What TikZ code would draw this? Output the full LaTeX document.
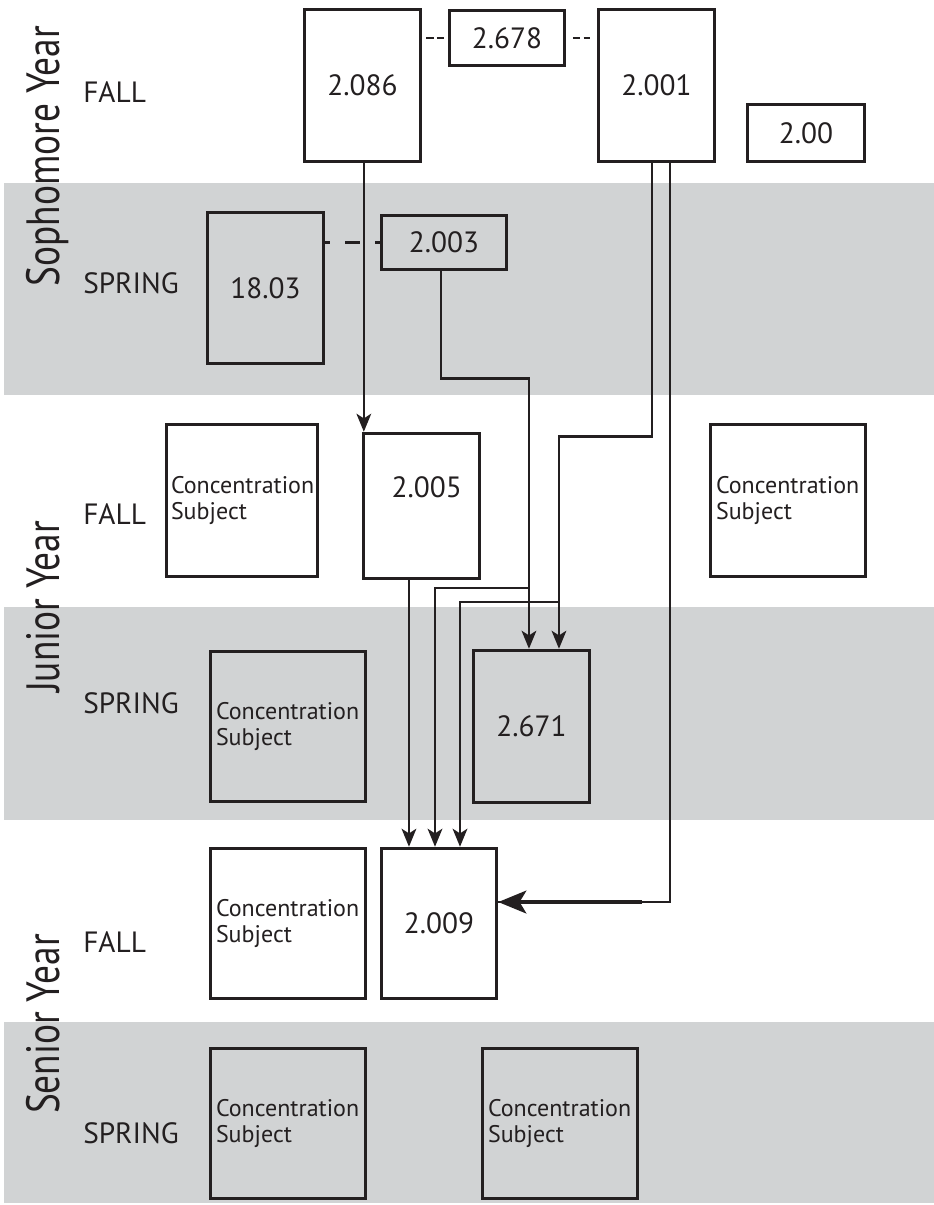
\documentclass[tikz,border=0pt]{standalone}
\usepackage{fontspec}
\setmainfont{PT Sans}
\newfontfamily\yearfont[FakeStretch=0.8]{PT Sans}
\usetikzlibrary{arrows.meta}
\definecolor{band}{HTML}{D1D3D4}
\definecolor{ink}{HTML}{231F20}

\begin{document}
\begin{tikzpicture}[x=0.75pt, y=-0.75pt,
    course/.style={draw=ink, line width=2.6pt, inner sep=0pt, text=ink, font=\fontsize{22}{24}\selectfont},
    conc/.style={draw=ink, line width=2.6pt, align=left, text=ink, font=\fontsize{18}{20}\selectfont},
    season/.style={anchor=west, inner sep=0pt, text=ink, font=\fontsize{22}{24}\selectfont},
    year/.style={rotate=90, anchor=base, inner sep=0pt, text=ink, font=\yearfont\fontsize{35}{36}\selectfont},
    flow/.style={draw=ink, line width=1.9pt, -{Stealth[length=13.5pt,width=11pt,inset=3.5pt]}},
    bigflow/.style={draw=ink, line width=3.2pt, -{Stealth[length=21pt,width=17pt,inset=5pt]}},
    link/.style={draw=ink, line width=1.9pt},
    prereq/.style={draw=ink, line width=1.8pt, dash pattern=on 5.5pt off 2.5pt}]

  \useasboundingbox (0,0) rectangle (934,1205);
  % grey spring bands
  \foreach \top/\bot in {183/395, 607/820, 1022/1203}
    \fill[band] (4,\top) rectangle (934,\bot);

  % year and term labels
  \node[year] (soph) at (59,156) {Sophomore Year};
  \node[year] (junior) at (59,607) {Junior Year};
  \node[year] (senior) at (59,1024) {Senior Year};
  \foreach \y/\term in {92/FALL, 283/SPRING, 514/FALL, 703/SPRING, 942/FALL, 1133/SPRING}
    \node[season] (term\y) at (83,\y) {\term};

  % sophomore year
  \node[course, minimum width=87pt, minimum height=114pt] (c2086) at (362.5,85.5) {2.086};
  \node[course, minimum width=86.25pt, minimum height=41.25pt] (c2678) at (507,38) {2.678};
  \node[course, minimum width=87pt, minimum height=114pt] (c2001) at (656.5,85.5) {2.001};
  \node[course, minimum width=87.75pt, minimum height=42.75pt] (c200) at (806,133) {2.00};
  \node[course, minimum width=87pt, minimum height=113.25pt] (c1803) at (265.5,288) {18.03};
  \node[course, minimum width=93.75pt, minimum height=40.5pt] (c2003) at (444,242.5) {2.003};

  % junior year
  \node[conc, text width=106.5pt, minimum height=114pt] (cjf1) at (242,500.5) {Concentration\\Subject};
  \node[course, minimum width=87pt, minimum height=108.75pt,
        label={[name=l2005, text=ink, font=\fontsize{22}{24}\selectfont, xshift=4pt, yshift=14pt]center:2.005}] (c2005) at (421.5,506) {};
  \node[conc, text width=108pt, inner xsep=4.1pt, minimum height=114pt] (cjf2) at (788,500.5) {Concentration\\Subject};
  \node[conc, text width=108pt, inner xsep=4.1pt, minimum height=112.5pt] (cjs) at (288,726.5) {Concentration\\Subject};
  \node[course, minimum width=87pt, minimum height=114pt] (c2671) at (531.5,726.5) {2.671};

  % senior year
  \node[conc, text width=108pt, inner xsep=4.1pt, minimum height=112.5pt] (csf) at (288,923.5) {Concentration\\Subject};
  \node[course, minimum width=86.25pt, minimum height=112.5pt] (c2009) at (439,923.5) {2.009};
  \node[conc, text width=108pt, inner xsep=4.1pt, minimum height=112.5pt] (css1) at (288,1123.5) {Concentration\\Subject};
  \node[conc, text width=108pt, inner xsep=4.1pt, minimum height=112.5pt] (css2) at (560,1123.5) {Concentration\\Subject};

  % co-requisites
  \draw[prereq, shorten <=3pt, shorten >=3pt] (c2086.east |- c2678.west) -- (c2678.west);
  \draw[prereq, shorten <=5pt, shorten >=5pt] (c2678.east) -- (c2678.east -| c2001.west);
  \draw[prereq, dash pattern=on 11.25pt off 11.25pt, dash phase=7.5pt] (c1803.east |- c2003.west) -- (c2003.west);

  % prerequisites
  \draw[flow] ([xshift=1pt]c2086.south) -- ([xshift=1pt]c2086.south |- c2005.north);
  \draw[flow] ([xshift=-2.25pt]c2003.south) -- ++(0,107) -| ([xshift=-1.9pt]c2671.north);
  \draw[flow] ([xshift=-3.4pt]c2001.south) -- ++(0,273) -| ([xshift=20.6pt]c2671.north);
  \draw[link] ([xshift=10.1pt]c2001.south) |- ([yshift=16.1pt]c2009.east);
  \draw[bigflow] ([xshift=108pt,yshift=16.1pt]c2009.east) -- ([yshift=16.1pt]c2009.east);
  \draw[flow] ([xshift=-9.4pt]c2005.south) -- ([xshift=-9.4pt]c2005.south |- c2009.north);
  \draw[flow] ([xshift=-1.9pt,yshift=45.75pt]c2671.north) -| ([xshift=-3pt]c2009.north);
  \draw[flow] ([xshift=20.6pt,yshift=35.25pt]c2671.north) -| ([xshift=15.75pt]c2009.north);
\end{tikzpicture}
\end{document}
